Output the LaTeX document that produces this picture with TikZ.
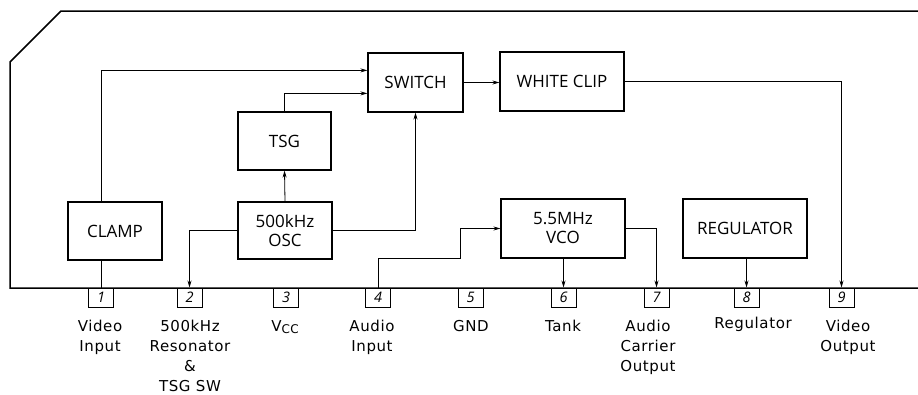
\documentclass[tikz,border=0pt]{standalone}
\usepackage{fontspec}
\setmainfont{Open Sans}
\newfontfamily\labelfont[LetterSpace=4]{DejaVu Sans}
\usetikzlibrary{arrows.meta,calc}
\tikzset{
  blk/.style={draw, line width=1.2pt, inner sep=0pt, align=center,
    font=\fontsize{17}{19}\selectfont},
  pinbox/.style={draw, line width=1pt, minimum width=25pt, minimum height=19pt,
    inner sep=0pt, font=\fontsize{14.5}{14.5}\selectfont\itshape},
  conn/.style={line width=0.8pt},
  arr/.style={conn, -{Stealth[length=7pt,width=4pt]}},
  lbl/.style={anchor=north, align=center, inner sep=0pt,
    font=\labelfont\fontsize{15}{20}\selectfont},
}
\begin{document}
\begin{tikzpicture}[x=1pt,y=-1pt]
\useasboundingbox (0,0) rectangle (918,394);
% outline
\draw[line width=1.5pt] (918,11) -- (61,11) -- (10,62) -- (10,288) -- (918,288);
% blocks
\node[blk, minimum width=95pt, minimum height=59pt] (switch) at (415.5,82.5) {SWITCH};
\node[blk, minimum width=124pt, minimum height=59pt] (wclip) at (562,81.5) {WHITE CLIP};
\node[blk, minimum width=93pt, minimum height=58pt] (tsg) at (284.5,141) {TSG};
\node[blk, minimum width=94pt, minimum height=58pt] (clamp) at (115,231) {CLAMP};
\node[blk, minimum width=94pt, minimum height=57pt] (osc) at (285,230.5) {500kHz\\OSC};
\node[blk, minimum width=124pt, minimum height=59pt] (vco) at (563,228.5) {5.5MHz\\VCO};
\node[blk, minimum width=124pt, minimum height=59pt] (reg) at (745,228.5) {REGULATOR};
% pins
\foreach \n/\x in {1/101,2/189.5,3/286,4/378,5/470.5,6/563.5,7/656.5,8/746.5,9/841.5}
  \node[pinbox] (pin\n) at (\x,297.5) {\n};
% connectors
\coordinate (sw1) at ($(switch.north west)+(0,18)$);
\coordinate (sw2) at ($(switch.north west)+(0,41)$);
\coordinate (bend) at (460,258);
\draw[arr] (pin1 |- clamp.north) |- (sw1);
\draw[conn] (pin1 |- clamp.south) -- (pin1.north);
\draw[arr] (tsg.north) |- (sw2);
\draw[arr] (osc.north) -- (tsg.south);
\draw[arr] (osc.east) -| (switch.south);
\draw[arr] (osc.west) -| (pin2.north);
\draw[arr] (switch.east) -- (switch.east -| wclip.west);
\draw[arr] (wclip.east) -| (pin9.north);
\draw[arr] (pin4.north) |- (bend) |- (vco.west);
\draw[arr] (vco.south -| pin6) -- (pin6.north);
\draw[arr] (vco.east) -| (pin7.north);
\draw[arr] (reg.south -| pin8) -- (pin8.north);
% labels
\node[lbl] (l1) at (100,320) {Video\\Input};
\node[lbl] (l2) at (190,320) {500kHz\\Resonator\\\&\\TSG SW};
\node[lbl] (l3) at (285,320) {V{\fontsize{12}{12}\selectfont\raisebox{-2pt}{CC}}};
\node[lbl] (l4) at (372,320) {Audio\\Input};
\node[lbl] (l5) at (471,320) {GND};
\node[lbl] (l6) at (563,320) {Tank};
\node[lbl] (l7) at (648,320) {Audio\\Carrier\\Output};
\node[lbl] (l8) at (753,317) {Regulator};
\node[lbl] (l9) at (848,320) {Video\\Output};
\end{tikzpicture}
\end{document}
